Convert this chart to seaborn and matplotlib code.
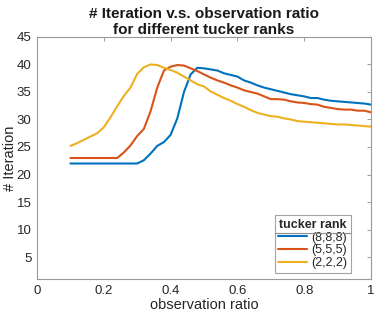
import numpy as np
import pandas as pd
import seaborn as sns
import matplotlib.pyplot as plt
from matplotlib.lines import Line2D

obs_ratio = np.round(np.arange(0.10, 1.001, 0.02), 2)

iter_888 = [22, 22, 22, 22, 22, 22, 22, 22, 22, 22, 22,
            22.6, 23.8, 25.2, 25.9, 27.2, 30.2, 35.0, 38.2, 39.4, 39.3,
            39.1, 38.9, 38.4, 38.1, 37.8, 37.1, 36.7, 36.2, 35.8, 35.5,
            35.2, 34.9, 34.6, 34.4, 34.2, 33.9, 33.9, 33.6, 33.4, 33.3,
            33.2, 33.1, 33.0, 32.9, 32.7]
iter_555 = [23, 23, 23, 23, 23, 23, 23, 23,
            24.0, 25.3, 27.0, 28.3, 31.5, 35.8, 38.9, 39.6, 39.9, 39.8,
            39.3, 38.8, 38.2, 37.6, 37.1, 36.7, 36.2, 35.8, 35.3, 35.0,
            34.7, 34.2, 33.7, 33.7, 33.6, 33.3, 33.1, 33.0, 32.8, 32.7,
            32.3, 32.1, 31.9, 31.8, 31.8, 31.6, 31.6, 31.3]
iter_222 = [25.2, 25.7, 26.3, 26.9, 27.5, 28.6, 30.4, 32.4, 34.3, 35.8,
            38.3, 39.5, 40.0, 39.9, 39.4, 39.0, 38.5, 37.8, 37.1, 36.4,
            36.0, 35.1, 34.5, 33.9, 33.4, 32.8, 32.3, 31.7, 31.2, 30.9,
            30.6, 30.5, 30.2, 30.0, 29.7, 29.6, 29.5, 29.4, 29.3, 29.2,
            29.1, 29.1, 29.0, 28.9, 28.8, 28.7]

ranks = ["(8,8,8)", "(5,5,5)", "(2,2,2)"]
colors = ["#0072BD", "#D95319", "#EDB120"]

df = pd.concat([
    pd.DataFrame({"ratio": obs_ratio, "iters": v, "tucker rank": r})
    for r, v in zip(ranks, [iter_888, iter_555, iter_222])
])

sns.set_theme(style="white")
plt.rcParams['font.family'] = ['Liberation Sans', 'DejaVu Sans']

fig = plt.figure(figsize=(3.74, 3.16), dpi=100)
ax = fig.add_axes([0.099, 0.117, 0.893, 0.766])

sns.lineplot(data=df, x="ratio", y="iters", hue="tucker rank",
             palette=dict(zip(ranks, colors)), linewidth=1.5, ax=ax)

ax.set_xlim(0, 1)
ax.set_ylim(1, 45)
ax.set_xticks([0, 0.2, 0.4, 0.6, 0.8, 1])
ax.set_xticklabels(["0", "0.2", "0.4", "0.6", "0.8", "1"])
ax.set_yticks(range(5, 46, 5))
ax.tick_params(direction="in", length=3, width=0.6, color="0.55",
               top=True, right=True, labelsize=9.5, labelcolor="0.15", pad=4)
for s in ax.spines.values():
    s.set_color("0.6")
    s.set_linewidth(0.8)

ax.set_xlabel("observation ratio", fontsize=10.5, color="0.15", labelpad=1)
ax.set_ylabel("# Iteration", fontsize=10.5, color="0.15", labelpad=0)
ax.set_title("# Iteration v.s. observation ratio\nfor different tucker ranks",
             fontsize=11, fontweight="bold", color="0.1", pad=2, linespacing=1.2)

leg = ax.legend(title="tucker rank", loc="lower right", bbox_to_anchor=(0.95, 0.01),
                fontsize=9, title_fontproperties={"weight": "bold", "size": 9},
                frameon=True, fancybox=False, edgecolor="0.55", handlelength=2.3,
                handletextpad=0.3, borderpad=0.3, labelspacing=0.05, borderaxespad=0.3)
leg.get_frame().set_linewidth(0.8)

fig.canvas.draw()
lb = leg.get_window_extent()
tb = leg.get_title().get_window_extent()
inv = fig.transFigure.inverted()
(x0, ysep), (x1, _) = inv.transform([(lb.x0, tb.y0 - 2), (lb.x1, tb.y0 - 2)])
fig.add_artist(Line2D([x0, x1], [ysep, ysep], color="0.55", lw=0.8))

fig.savefig("out.png", dpi=100)
